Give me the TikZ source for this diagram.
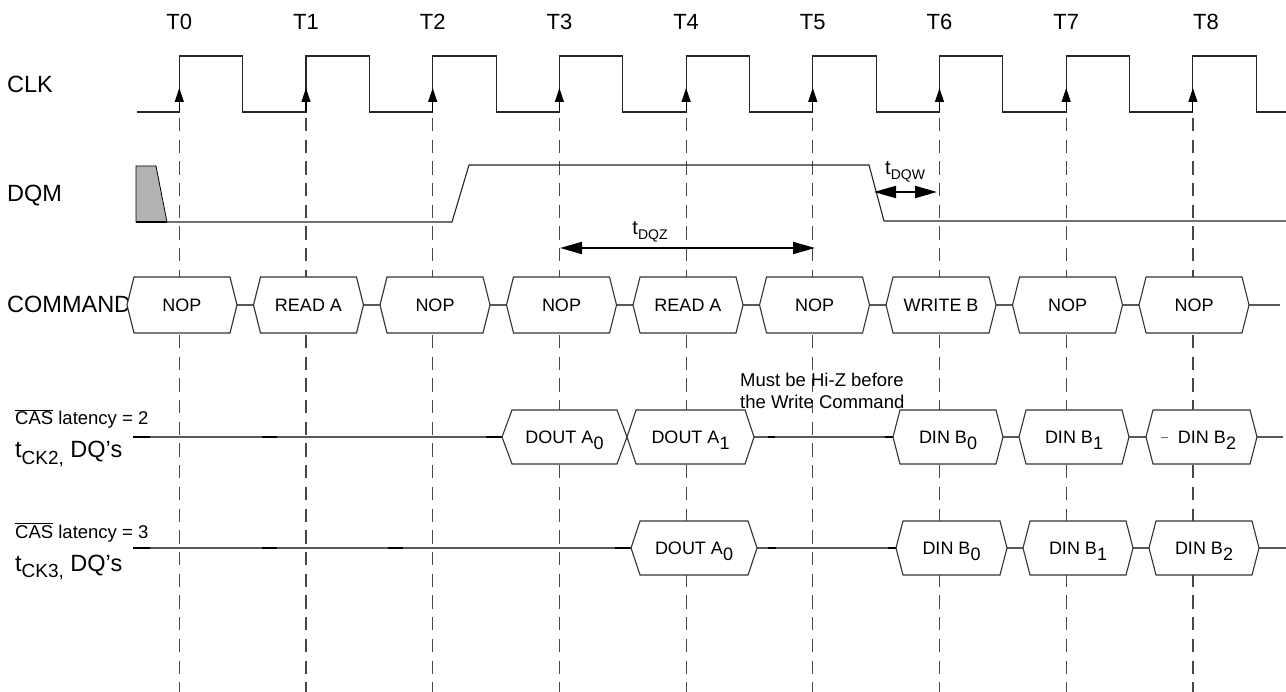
\documentclass[tikz,border=0pt]{standalone}
\usepackage{fontspec}
\setmainfont{Liberation Sans}
\usetikzlibrary{arrows.meta}
\newcommand{\lowsub}[1]{\raisebox{-0.33em}{#1}}
\newcommand{\busbox}[7]{%
  \draw[bus] (#2,#4) -- ({#2+#6},{#4-#5}) -- ({#3-#6},{#4-#5}) -- (#3,#4) -- ({#3-#6},{#4+#5}) -- ({#2+#6},{#4+#5}) -- cycle;
  \node[btxt, anchor=base] (#1) at ({(#2+#3)/2},{#4+6.5}) {#7};}
\begin{document}
\begin{tikzpicture}[x=1pt,y=-1pt,
  sig/.style={line width=1.1pt, draw=black!65},
  wave/.style={line width=1.1pt, draw=black!85},
  gridline/.style={line width=1.2pt, draw=black!72, dash pattern=on 13.3pt off 8.4pt, dash phase=15.7pt},
  bus/.style={line width=1.1pt, draw=black!80, fill=white},
  tlbl/.style={font=\fontsize{22}{26}\selectfont, inner sep=0pt},
  lbl/.style={font=\fontsize{23.5}{27}\selectfont, inner sep=0pt},
  btxt/.style={font=\fontsize{18}{21}\selectfont, inner sep=0pt},
  stxt/.style={font=\fontsize{18.5}{21}\selectfont, inner sep=0pt},
  stub/.style={line width=2.2pt, draw=black},
  dim/.style={line width=2pt, draw=black, {Triangle[length=22pt,width=12pt]}-{Triangle[length=22pt,width=12pt]}},
  edgetip/.style={-{Triangle[length=14pt,width=9pt]}, line width=1.1pt, draw=black}
]
\useasboundingbox[fill=white] (0,0) rectangle (1286,692);

% clock edge coordinates
\foreach \i in {0,...,8} \coordinate (e\i) at ({179.3+126.7*\i},112);

% dashed reference lines
\foreach \i in {0,...,8} \draw[gridline] (e\i) -- ++(0,580);

% time labels
\foreach \i in {0,...,7} \node[tlbl, anchor=base] (t\i) at ({179.3+126.7*\i},30) {T\i};
\node[tlbl, anchor=base] (t8) at (1206,30) {T8};

% signal names
\node[lbl, anchor=base west] (clk) at (7,93) {CLK};
\node[lbl, anchor=base west] (dqm) at (7,202) {DQM};
\node[lbl, anchor=base west] (cmd) at (7,313) {COMMAND};
\node[stxt, anchor=base west] (cas2) at (15,425) {$\overline{\mbox{CAS}}$ latency = 2};
\node[lbl, anchor=base west] (ck2) at (15,458) {t{\fontsize{19}{20}\selectfont\lowsub{CK2,}} DQ’s};
\node[stxt, anchor=base west] (cas3) at (15,538) {$\overline{\mbox{CAS}}$ latency = 3};
\node[lbl, anchor=base west] (ck3) at (15,571) {t{\fontsize{19}{20}\selectfont\lowsub{CK3,}} DQ’s};

% CLK waveform
\draw[wave] (137,112) foreach \i in {0,...,8} { -- ({179.3+126.7*\i},112) -- ({179.3+126.7*\i},56) -- ({242.7+126.7*\i},56) -- ({242.7+126.7*\i},112) } -- (1286,112);
\foreach \i in {0,...,8} \draw[edgetip] (e\i) -- ++(0,-24);

% DQM waveform
\draw[line width=0.8pt, draw=black, fill=black!30] (136,166) -- (156,166) -- (167,222) -- (136,222) -- cycle;
\draw[stub] (136,222) -- (167,222);
\draw[wave] (167,222) -- (452,222) -- (469,165) -- (869,165) -- (884,221) -- (1286,221);

% timing parameters
\coordinate (dqzL) at (560,248);
\coordinate (dqzR) at (815,248);
\draw[dim] (dqzL) -- (dqzR);
\node[font=\fontsize{20}{22}\selectfont, inner sep=0pt, anchor=base] (tdqz) at (650,235) {t{\fontsize{14}{16}\selectfont\lowsub{DQZ}}};
\coordinate (dqwL) at (874,192);
\coordinate (dqwR) at (937,192);
\draw[dim] (dqwL) -- (dqwR);
\node[font=\fontsize{20}{22}\selectfont, inner sep=0pt, anchor=base west] (tdqw) at (885,175) {t{\fontsize{14}{16}\selectfont\lowsub{DQW}}};

% COMMAND bus
\draw[sig] (127,305) -- (1280,305);
\foreach \i/\t in {0/NOP,1/READ A,2/NOP,3/NOP,4/READ A,5/NOP,6/WRITE B,7/NOP,8/NOP} {
  \busbox{c\i}{127+126.5*\i}{237+126.5*\i}{305}{28}{7}{\t}
}

% CAS latency = 2 data
\draw[sig] (133,437) -- (1283,437);
\draw[stub] (133,437) -- (150,437);
\draw[stub] (262,437) -- (277,437);
\draw[stub] (486,437) -- (502,437);
\draw[stub] (768,437) -- (775,437);
\draw[stub] (885,437) -- (893,437);
\busbox{a0}{502}{627}{437}{27}{10}{DOUT A\lowsub{0}}
\busbox{a1}{627}{754}{437}{27}{9}{DOUT A\lowsub{1}}
\busbox{b0}{893}{1003}{437}{27}{7}{DIN B\lowsub{0}}
\busbox{b1}{1019}{1129}{437}{27}{7}{DIN B\lowsub{1}}
\busbox{b2}{1146}{1257}{437}{27}{7}{\phantom{- }DIN B\lowsub{2}}
\draw[line width=0.8pt, draw=black!60] (1161,437) -- (1168,437);
\node[stxt, anchor=base west] (hiz1) at (740,387) {Must be Hi-Z before};
\node[stxt, anchor=base west] (hiz2) at (740,409) {the Write Command};

% CAS latency = 3 data
\draw[sig] (133,548) -- (1286,548);
\draw[stub] (133,548) -- (150,548);
\draw[stub] (262,548) -- (277,548);
\draw[stub] (388,548) -- (403,548);
\draw[stub] (615,548) -- (631,548);
\draw[stub] (768,548) -- (776,548);
\draw[stub] (888,548) -- (896,548);
\busbox{d0}{631}{757}{548}{27}{9}{DOUT A\lowsub{0}}
\busbox{f0}{896}{1007}{548}{27}{7}{DIN B\lowsub{0}}
\busbox{f1}{1023}{1133}{548}{27}{7}{DIN B\lowsub{1}}
\busbox{f2}{1149}{1259}{548}{27}{7}{DIN B\lowsub{2}}
\end{tikzpicture}
\end{document}
